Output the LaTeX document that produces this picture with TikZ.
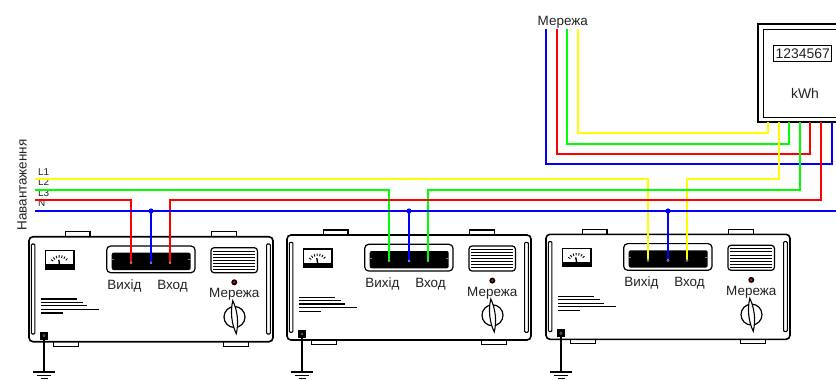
\documentclass[tikz,border=0pt]{standalone}
\usepackage{fontspec}
\setmainfont{Liberation Sans}
\definecolor{wireyellow}{RGB}{255,255,0}
\definecolor{wiregreen}{RGB}{0,255,0}
\definecolor{wirered}{RGB}{255,0,0}
\definecolor{wireblue}{RGB}{0,0,255}
\definecolor{inkgray}{RGB}{35,35,35}

\tikzset{
  wire/.style={line width=2bp},
  wY/.style={wire, draw=wireyellow},
  wG/.style={wire, draw=wiregreen},
  wR/.style={wire, draw=wirered},
  wB/.style={wire, draw=wireblue},
  lbl/.style={inner sep=0pt, text=inkgray, font=\fontsize{13.5}{16}\selectfont},
  small/.style={inner sep=0pt, text=inkgray, font=\fontsize{10}{12}\selectfont},
  hull/.style={line width=1.6bp, draw=black},
  tab/.style={line width=1.2bp, draw=black, fill=white},
  trim/.style={line width=1.1bp, draw=black},
}

% One voltage stabiliser: #1 name, #2 left edge, #3 top edge
\newcommand{\stabunit}[3]{%
  \begin{scope}[shift={(#2,#3)}]
    % mounting tabs
    \draw[tab] (36.7,-5) rectangle (61,0.5);
    \draw[tab] (182.7,-5) rectangle (207.4,0.5);
    \draw[tab] (24.4,104.5) rectangle (49.4,109.5);
    \draw[tab] (194.4,104.5) rectangle (219.4,109.5);
    % housing
    \draw[hull, fill=white, rounded corners=4bp] (0,0) rectangle (244,105);
    \draw[trim, rounded corners=1bp] (2.4,7.3) rectangle (5.9,97.3);
    \draw[trim, rounded corners=1bp] (237.6,7.3) rectangle (241.3,97.3);
    % panel meter
    \coordinate (#1-gc) at (30.8,29);
    \draw[trim, fill=white] (16.7,14) rectangle (45,32.6);
    \fill (16.7,27.5) rectangle (45,32.6);
    \foreach \a in {-145,-128,...,-35}
      \draw[line width=0.9bp] ([shift={(\a:8)}]#1-gc) -- ([shift={(\a:10.5)}]#1-gc);
    \draw[line width=1.4bp] (#1-gc) -- ++(-100:6);
    % terminal window
    \draw[line width=1.2bp, rounded corners=4bp] (77.7,9.3) rectangle (166,36);
    \fill[rounded corners=2bp] (82.7,16) rectangle (161.7,33.3);
    \draw[gray, line width=0.5bp] (82.7,23) -- (85,23) (159.4,23) -- (161.7,23);
    \coordinate (#1-out) at (102,26);
    \coordinate (#1-n) at (122,26);
    \coordinate (#1-in) at (141,26);
    \node[lbl, anchor=base] (#1-lout) at (95.5,52.6) {Вихід};
    \node[lbl, anchor=base] (#1-lin) at (143.5,52.6) {Вход};
    % ventilation grille
    \draw[line width=1.2bp, rounded corners=3bp] (182,11) rectangle (228.4,36);
    \foreach \k in {0,...,6}
      \draw[line width=1bp] (184,{14.6+3.05*\k}) -- (226.4,{14.6+3.05*\k});
    % mains lamp, label and switch
    \fill[black] (205.3,45.6) circle (3);
    \fill[wirered] (205.3,45.6) circle (1.3);
    \node[lbl, anchor=base] (#1-mains) at (205.3,61) {Мережа};
    \coordinate (#1-knob) at (205.5,80.3);
    \draw[line width=1.2bp, fill=white] (#1-knob) circle (10.5);
    \draw[line width=1.1bp, fill=white, rotate around={6:(#1-knob)}]
      (205.5,64) .. controls (209.2,74) and (209.2,87) .. (205.5,97)
      .. controls (201.8,87) and (201.8,74) .. (205.5,64) -- cycle;
    % rating plate
    \foreach \yy/\xe in {62.3/48.4, 65.6/54.4, 69/57.7, 72.6/70, 76.3/34}
      \draw[line width=1.1bp] (12.4,\yy) -- (\xe,\yy);
    % earth terminal
    \coordinate (#1-gnd) at (15,99);
    \coordinate (#1-earth) at (15,{372-#3});
    \draw[line width=1.5bp] (#1-gnd) -- (#1-earth);
    \draw[line width=1.7bp] ([xshift=-11bp]#1-earth) -- ([xshift=11bp]#1-earth);
    \draw[line width=1.5bp] ([xshift=-7bp,yshift=-3.5bp]#1-earth) -- ([xshift=7bp,yshift=-3.5bp]#1-earth);
    \draw[line width=1.4bp] ([xshift=-3.5bp,yshift=-6.5bp]#1-earth) -- ([xshift=3.5bp,yshift=-6.5bp]#1-earth);
    \fill (11,95) rectangle (19,103);
    \draw[gray, line width=0.4bp] (#1-gnd) circle (1.2);
  \end{scope}
}

\begin{document}
\begin{tikzpicture}[x=1bp,y=-1bp]
  \clip (0,0) rectangle (836,379);

  % three stabilisers
  \stabunit{u1}{29}{236.7}
  \stabunit{u2}{287}{235}
  \stabunit{u3}{546}{234.3}

  % energy meter
  \draw[line width=2bp] (757.7,24.3) rectangle (860,122.3);
  \draw[line width=1.5bp] (763.3,29.3) rectangle (860,117.7);
  \node[draw, line width=1.2bp, minimum width=58bp, minimum height=16bp, inner sep=0pt]
    (display) at (802.3,53.7) {};
  \node[lbl, font=\fontsize{14}{16}\selectfont, anchor=base] (reading) at (802.8,58.3) {1234567};
  \node[lbl, font=\fontsize{14}{16}\selectfont, anchor=base] (unit) at (805,98.3) {kWh};

  % meter terminals
  \coordinate (mYin) at (768,122.3);
  \coordinate (mYout) at (779,122.3);
  \coordinate (mGin) at (789,122.3);
  \coordinate (mGout) at (800,122.3);
  \coordinate (mRin) at (810,122.3);
  \coordinate (mRout) at (821,122.3);
  \coordinate (mBin) at (832,122.3);

  % supply feed
  \node[lbl, anchor=base] (grid) at (562.8,25) {Мережа};
  \coordinate (gB) at (546,29.3);
  \coordinate (gR) at (557,29.3);
  \coordinate (gG) at (567,29.3);
  \coordinate (gY) at (578,29.3);
  \coordinate (kY) at (768,133);
  \coordinate (kG) at (789,144);
  \coordinate (kR) at (810,154);
  \coordinate (kB) at (832,164);
  \draw[wB] (gB) |- (kB) -- (mBin);
  \draw[wR] (gR) |- (kR) -- (mRin);
  \draw[wG] (gG) |- (kG) -- (mGin);
  \draw[wY] (gY) |- (kY) -- (mYin);

  % load bus
  \coordinate (busL1) at (35,179);
  \coordinate (busL2) at (35,190);
  \coordinate (busL3) at (35,200);
  \coordinate (busN) at (35,211);
  \coordinate (busNend) at (845,211);
  \node[small, anchor=base west] (lab1) at (38,175.7) {L1};
  \node[small, anchor=base west] (lab2) at (38,185.9) {L2};
  \node[small, anchor=base west] (lab3) at (38,196) {L3};
  \node[small, anchor=base west] (labN) at (38,206.3) {N};
  \node[lbl, rotate=90, anchor=base] (load) at (26.5,185) {Навантаження};

  \draw[wY] (busL1) -| (u3-out);
  \draw[wG] (busL2) -| (u2-out);
  \draw[wR] (busL3) -| (u1-out);
  \draw[wY] (mYout) |- (busL1 -| u3-in) -- (u3-in);
  \draw[wG] (mGout) |- (busL2 -| u2-in) -- (u2-in);
  \draw[wR] (mRout) |- (busL3 -| u1-in) -- (u1-in);
  \draw[wB] (busN) -- (busNend);
  \foreach \u in {u1,u2,u3} {
    \draw[wB] (busN -| \u-n) -- (\u-n);
    \fill[wireblue] (busN -| \u-n) circle (2.6);
  }

  % terminal screws
  \foreach \u in {u1,u2,u3}
    \foreach \t in {out,n,in}
      \draw[gray!70, line width=0.5bp] (\u-\t) circle (1.1);
\end{tikzpicture}
\end{document}
